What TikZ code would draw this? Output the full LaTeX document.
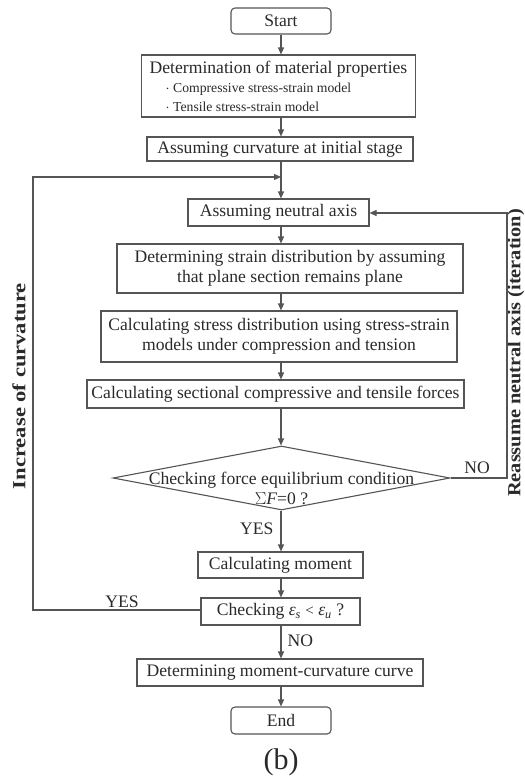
\documentclass[tikz,border=0pt]{standalone}
\usepackage{fontspec}
\setmainfont{Liberation Serif}
\usetikzlibrary{arrows.meta,shapes.geometric}
\definecolor{ln}{HTML}{555555}
\definecolor{tx}{HTML}{2A2A2A}
\newcommand\fmain{\fontsize{17.6}{20}\selectfont}
\newcommand\fbul{\fontsize{13.7}{15}\selectfont}
\newcommand\fside{\fontsize{18.5}{20}\selectfont\bfseries}
\begin{document}
\begin{tikzpicture}[x=1pt,y=-1pt,
  box/.style={draw=ln,line width=1.1pt,text=tx,font=\fmain,inner sep=0pt,align=center},
  term/.style={box,rounded corners=4pt},
  arr/.style={draw=ln,line width=1.1pt,-{Triangle[length=7pt,width=6pt]}},
  lnk/.style={draw=ln,line width=1.1pt},
  lab/.style={text=tx,font=\fmain,inner sep=0pt},
  side/.style={text=tx,font=\fside,inner sep=0pt,rotate=90}]
\useasboundingbox (0,0) rectangle (525,780);
\fill[white] (0,0) rectangle (525,780);
\coordinate (ax) at (281,0);
\node[term,minimum width=100pt,minimum height=26pt] (start) at (281,21) {Start};
\node[box,minimum width=273pt,minimum height=62pt,align=left,inner xsep=8pt] (mat) at (278.5,86)
  {\fmain Determination of material properties\\[-1pt]
   \fbul\hspace*{16pt}$\cdot$ Compressive stress-strain model\\[-1pt]
   \fbul\hspace*{16pt}$\cdot$ Tensile stress-strain model};
\node[box,minimum width=266pt,minimum height=24pt] (curv) at (280,149) {Assuming curvature at initial stage};
\coordinate (merge) at (281,177);
\node[box,minimum width=181pt,minimum height=27pt] (na) at (278.5,212.5) {Assuming neutral axis};
\node[box,minimum width=346pt,minimum height=49pt] (strain) at (290,268.5)
  {Determining strain distribution by assuming\\that plane section remains plane};
\node[box,minimum width=356pt,minimum height=51pt] (stress) at (279,336.5)
  {Calculating stress distribution using stress-strain\\models under compression and tension};
\node[box,minimum width=377pt,minimum height=28pt] (forces) at (275.5,394)
  {Calculating sectional compressive and tensile forces};
\node[draw=ln,line width=1.1pt,diamond,minimum width=337pt,minimum height=64pt,inner sep=0pt] (eq) at (281.5,478) {};
\node[lab,align=center] (eqt) at (281.5,488)
  {Checking force equilibrium condition\\$\Sigma$\textit{F}=0 ?};
\node[box,minimum width=165pt,minimum height=26pt] (mom) at (280.5,565) {Calculating moment};
\node[box,minimum width=159pt,minimum height=27pt] (chk) at (280.5,611.5)
  {Checking \textit{ε}\textsubscript{\textit{s}} {\fontsize{15}{16}\selectfont<} \textit{ε}\textsubscript{\textit{u}} ?};
\node[box,minimum width=286pt,minimum height=27pt] (mc) at (280,672.5) {Determining moment-curvature curve};
\node[term,minimum width=100pt,minimum height=27pt] (end) at (281,720.5) {End};
\node[text=tx,inner sep=0pt,font=\fontsize{30}{32}\selectfont] (cap) at (281,762) {(b)};
% side labels
\node[side] (inc) at (19,386) {\scalebox{1.22}[1]{Increase of curvature}};
\node[side] (rea) at (516,353) {\scalebox{1.1}[1]{Reassume neutral axis (iteration)}};
% connectors
\draw[arr] (ax |- start.south) -- (ax |- mat.north);
\draw[arr] (ax |- mat.south) -- (ax |- curv.north);
\draw[arr] (ax |- curv.south) -- (ax |- na.north);
\draw[arr] (ax |- na.south) -- (ax |- strain.north);
\draw[arr] (ax |- strain.south) -- (ax |- stress.north);
\draw[arr] (ax |- stress.south) -- (ax |- forces.north);
\draw[arr] (ax |- forces.south) -- (ax |- eq.north);
\draw[arr] (ax |- eq.south) -- node[lab,left=7pt,pos=0.45] (yes1) {YES} (ax |- mom.north);
\draw[arr] (ax |- mom.south) -- (ax |- chk.north);
\draw[arr] (ax |- chk.south) -- node[lab,right=6pt,pos=0.45] (no2) {NO} (ax |- mc.north);
\draw[arr] (ax |- mc.south) -- (ax |- end.north);
% loops
\draw[arr] (eq.east) -- (507,478) -- (507,213) -- (na.east |- 0,213);
\node[lab] (no1) at (477,468) {NO};
\draw[arr] (chk.west |- 0,610) -- (33,610) -- (33,177) -- (merge);
\node[lab] (yes2) at (122,602) {YES};
\end{tikzpicture}
\end{document}
